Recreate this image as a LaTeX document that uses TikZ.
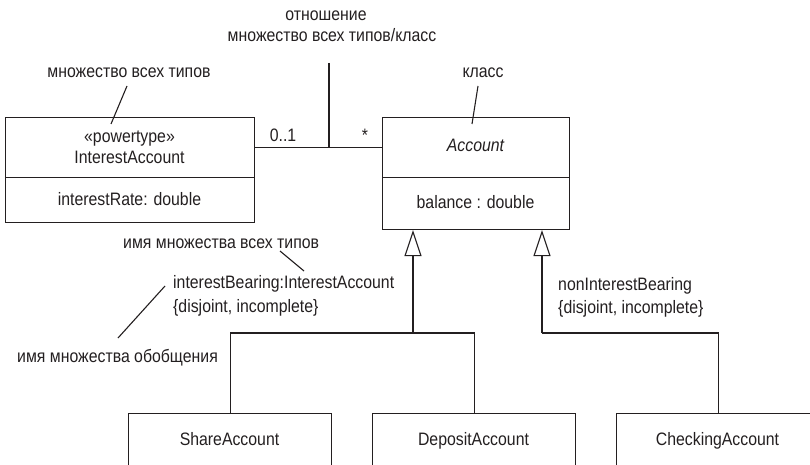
\documentclass[tikz,border=0pt]{standalone}
\usepackage{fontspec}
\setmainfont{Liberation Sans}[FakeStretch=0.88]
\usetikzlibrary{arrows.meta}
\definecolor{ink}{HTML}{231F20}
\begin{document}
\begin{tikzpicture}[x=1pt,y=-1pt,
  every node/.style={font=\fontsize{18}{22}\selectfont, text=ink, inner sep=0pt},
  box/.style={draw=ink, line width=1.1pt, anchor=north west, inner sep=0pt},
  ln/.style={draw=ink, line width=1.1pt},
  gen/.style={ln, -{Triangle[open, length=26pt, width=17pt, line width=1.1pt]}},
  lb/.style={anchor=base},
  lbw/.style={anchor=base west}]
\useasboundingbox (0,0) rectangle (810,465);
\clip (0,0) rectangle (810,465);

% classes
\node[box, minimum width=249pt, minimum height=60pt] (ia) at (5,117) {};
\node[lb] (iast) at (129.5,143) {«powertype»};
\node[lb] (ian) at (129.5,164) {InterestAccount};
\node[box, minimum width=249pt, minimum height=45pt] (iab) at (5,177) {};
\node[lb] (iaat) at (129.5,205) {interestRate: double};

\node[box, minimum width=187pt, minimum height=60pt] (acc) at (382,117) {};
\node[lb, font=\fontsize{18}{22}\selectfont\itshape] (accn) at (475.5,152) {Account};
\node[box, minimum width=187pt, minimum height=52pt] (accb) at (382,177) {};
\node[lb] (accat) at (475.5,208) {balance : double};

\node[box, minimum width=203pt, minimum height=80pt] (sh) at (128,413) {};
\node[lb] (sht) at (229.5,445) {ShareAccount};
\node[box, minimum width=203pt, minimum height=80pt] (dep) at (372,413) {};
\node[lb] (dept) at (473.5,445) {DepositAccount};
\node[box, minimum width=203pt, minimum height=80pt] (chk) at (616,413) {};
\node[lb] (chkt) at (717.5,445) {CheckingAccount};

% association
\draw[ln] (ia.east) -- (acc.west);
\node[lb] (m1) at (283,142) {0..1};
\node[lb] (m2) at (365,142) {*};
\coordinate (am) at (329,147);
\coordinate (rn) at (329,63);
\draw[ln] (rn) -- (am);
\node[lb] (rel1) at (326,21) {отношение};
\node[lb] (rel2) at (332,42) {множество всех типов/класс};

% notes
\node[lb] (ptn) at (129,78) {множество всех типов};
\coordinate (ptn1) at (127,86);
\coordinate (ptn2) at (111,124);
\draw[ln] (ptn1) -- (ptn2);
\node[lb] (kl) at (483,78) {класс};
\coordinate (kl1) at (478,86);
\coordinate (kl2) at (472,124);
\draw[ln] (kl1) -- (kl2);

% generalizations
\coordinate (j1) at (413,333);
\coordinate (j2) at (542,333);
\draw[ln] (sh.north) -- (sh.north |- j1) -- (dep.north |- j1) -- (dep.north);
\draw[gen] (j1) -- (j1 |- accb.south);
\draw[ln] (chk.north) -- (chk.north |- j2) -- (j2);
\draw[gen] (j2) -- (j2 |- accb.south);

\node[lbw] (ib1) at (173,288) {interestBearing:InterestAccount};
\node[lbw] (ib2) at (173,312) {\{disjoint, incomplete\}};
\node[lbw] (nib1) at (558,290) {nonInterestBearing};
\node[lbw] (nib2) at (558,313) {\{disjoint, incomplete\}};

\node[lbw] (ptname) at (123,248) {имя множества всех типов};
\coordinate (pt1) at (280,251);
\coordinate (pt2) at (304,271);
\draw[ln] (pt1) -- (pt2);
\node[lbw] (gsname) at (17,362) {имя множества обобщения};
\coordinate (gs1) at (165,286);
\coordinate (gs2) at (118,338);
\draw[ln] (gs1) -- (gs2);
\end{tikzpicture}
\end{document}
